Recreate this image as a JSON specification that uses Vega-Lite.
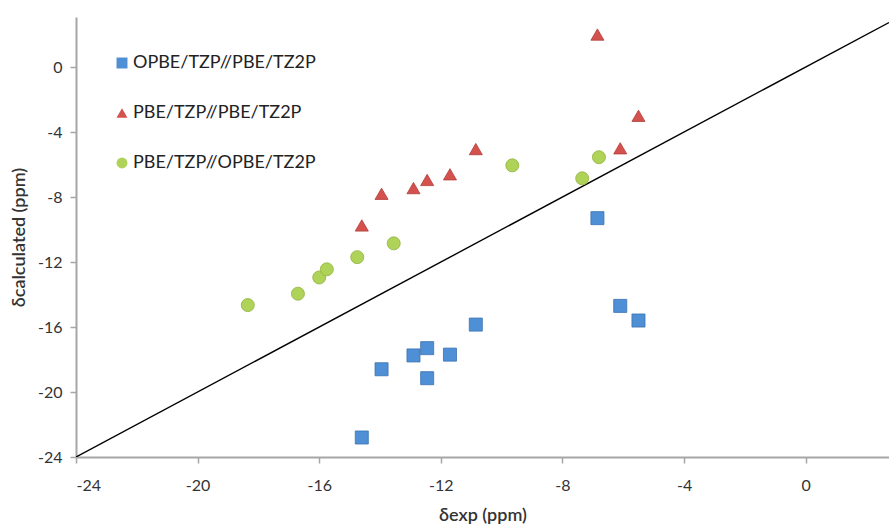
{
  "$schema": "https://vega.github.io/schema/vega-lite/v6.json",
  "autosize": "none",
  "width": 813,
  "height": 440,
  "padding": {"left": 76, "top": 17, "right": 0, "bottom": 70},
  "background": "white",
  "config": {
    "view": {"stroke": null},
    "font": "Lato",
    "axis": {
      "domainColor": "#a6a6a6",
      "domainWidth": 2,
      "tickColor": "#a6a6a6",
      "tickWidth": 1.5,
      "tickSize": 6,
      "grid": false,
      "labelFont": "Lato",
      "labelFontSize": 16,
      "labelColor": "#333333",
      "labelExpr": "'' + datum.value",
      "titleFont": "Lato",
      "titleFontSize": 18,
      "titleFontWeight": 600,
      "titleColor": "#333333"
    }
  },
  "datasets": {
    "pts": [
      {"series": "OPBE/TZP//PBE/TZ2P", "exp": -6.85, "calc": -9.3},
      {"series": "OPBE/TZP//PBE/TZ2P", "exp": -6.1, "calc": -14.7},
      {"series": "OPBE/TZP//PBE/TZ2P", "exp": -5.5, "calc": -15.6},
      {"series": "OPBE/TZP//PBE/TZ2P", "exp": -10.85, "calc": -15.85},
      {"series": "OPBE/TZP//PBE/TZ2P", "exp": -12.45, "calc": -17.3},
      {"series": "OPBE/TZP//PBE/TZ2P", "exp": -12.9, "calc": -17.75},
      {"series": "OPBE/TZP//PBE/TZ2P", "exp": -11.7, "calc": -17.7},
      {"series": "OPBE/TZP//PBE/TZ2P", "exp": -13.95, "calc": -18.6},
      {"series": "OPBE/TZP//PBE/TZ2P", "exp": -12.45, "calc": -19.15},
      {"series": "OPBE/TZP//PBE/TZ2P", "exp": -14.6, "calc": -22.8},
      {"series": "PBE/TZP//PBE/TZ2P", "exp": -6.85, "calc": 2.0},
      {"series": "PBE/TZP//PBE/TZ2P", "exp": -5.5, "calc": -3.0},
      {"series": "PBE/TZP//PBE/TZ2P", "exp": -6.1, "calc": -5.0},
      {"series": "PBE/TZP//PBE/TZ2P", "exp": -10.85, "calc": -5.05},
      {"series": "PBE/TZP//PBE/TZ2P", "exp": -11.7, "calc": -6.6},
      {"series": "PBE/TZP//PBE/TZ2P", "exp": -12.45, "calc": -6.95},
      {"series": "PBE/TZP//PBE/TZ2P", "exp": -12.9, "calc": -7.45},
      {"series": "PBE/TZP//PBE/TZ2P", "exp": -13.95, "calc": -7.8},
      {"series": "PBE/TZP//PBE/TZ2P", "exp": -14.6, "calc": -9.75},
      {"series": "PBE/TZP//OPBE/TZ2P", "exp": -18.35, "calc": -14.65},
      {"series": "PBE/TZP//OPBE/TZ2P", "exp": -16.7, "calc": -13.95},
      {"series": "PBE/TZP//OPBE/TZ2P", "exp": -16.0, "calc": -12.95},
      {"series": "PBE/TZP//OPBE/TZ2P", "exp": -15.75, "calc": -12.45},
      {"series": "PBE/TZP//OPBE/TZ2P", "exp": -14.75, "calc": -11.7},
      {"series": "PBE/TZP//OPBE/TZ2P", "exp": -13.55, "calc": -10.85},
      {"series": "PBE/TZP//OPBE/TZ2P", "exp": -9.65, "calc": -6.05},
      {"series": "PBE/TZP//OPBE/TZ2P", "exp": -7.35, "calc": -6.85},
      {"series": "PBE/TZP//OPBE/TZ2P", "exp": -6.8, "calc": -5.55}
    ],
    "diag": [
      {"exp": -24, "calc": -24},
      {"exp": 2.74, "calc": 2.74}
    ]
  },
  "layer": [
    {
      "mark": {"type": "rule", "color": "#a6a6a6", "strokeWidth": 2},
      "encoding": {"y": {"datum": 3.08, "type": "quantitative", "scale": {"domain": [-24, 3.08], "nice": false, "zero": false}}}
    },
    {
      "data": {"name": "diag"},
      "mark": {"type": "line", "color": "#000000", "strokeWidth": 1.4, "clip": true},
      "encoding": {
        "x": {"field": "exp", "type": "quantitative"},
        "y": {"field": "calc", "type": "quantitative"}
      }
    },
    {
      "data": {"name": "pts"},
      "mark": {"type": "point", "filled": true, "opacity": 1, "strokeWidth": 0.8},
      "encoding": {
        "x": {
          "field": "exp", "type": "quantitative",
          "scale": {"domain": [-24, 2.74], "nice": false, "zero": false},
          "axis": {"values": [-24, -20, -16, -12, -8, -4, 0], "title": "δexp (ppm)", "titlePadding": 13, "labelPadding": 14}
        },
        "y": {
          "field": "calc", "type": "quantitative",
          "scale": {"domain": [-24, 3.08], "nice": false, "zero": false},
          "axis": {"values": [-24, -20, -16, -12, -8, -4, 0], "title": "δcalculated (ppm)", "titlePadding": 9, "labelPadding": 8}
        },
        "shape": {
          "field": "series", "type": "nominal",
          "scale": {"domain": ["OPBE/TZP//PBE/TZ2P", "PBE/TZP//PBE/TZ2P", "PBE/TZP//OPBE/TZ2P"], "range": ["square", "triangle-up", "circle"]},
          "legend": null
        },
        "color": {
          "field": "series", "type": "nominal",
          "scale": {"domain": ["OPBE/TZP//PBE/TZ2P", "PBE/TZP//PBE/TZ2P", "PBE/TZP//OPBE/TZ2P"], "range": ["#4e8fd6", "#d4514d", "#afd359"]},
          "legend": {
            "title": null,
            "orient": "none",
            "legendX": 37,
            "legendY": 37,
            "symbolSize": 120,
            "labelFontSize": 18,
            "labelFont": "Lato",
            "labelLimit": 400,
            "labelColor": "#222222",
            "rowPadding": 32,
            "labelOffset": 2,
            "symbolStrokeWidth": 0
          }
        },
        "size": {"value": 170},
        "stroke": {
          "field": "series", "type": "nominal",
          "scale": {"domain": ["OPBE/TZP//PBE/TZ2P", "PBE/TZP//PBE/TZ2P", "PBE/TZP//OPBE/TZ2P"], "range": ["#3a72b0", "#b03c38", "#8fb23e"]},
          "legend": null
        }
      }
    }
  ]
}
